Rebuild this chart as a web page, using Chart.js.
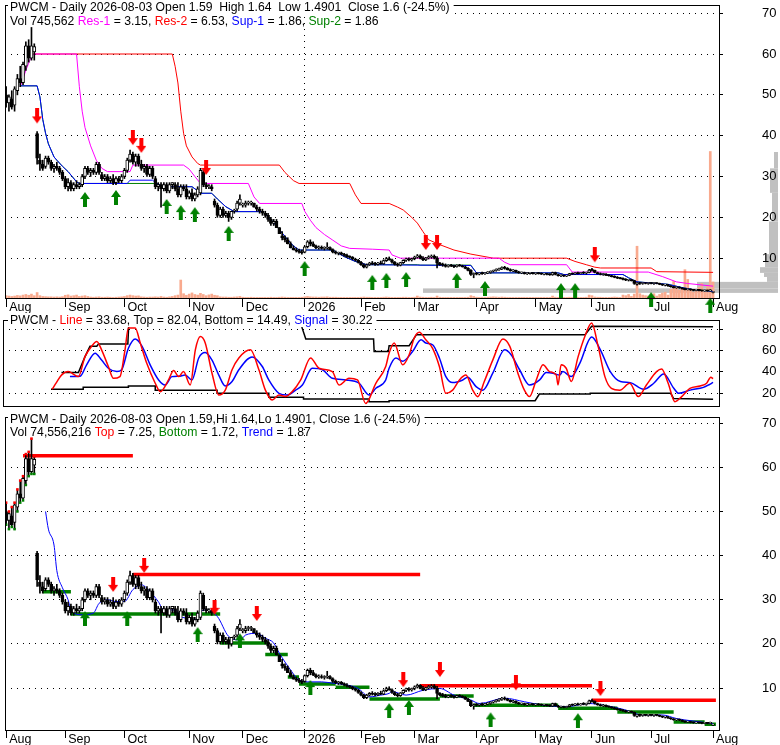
<!DOCTYPE html>
<html>
<head>
<meta charset="utf-8">
<script src="https://cdn.jsdelivr.net/npm/chart.js@4.4.1/dist/chart.umd.min.js"></script>
<style>
html, body { margin: 0; padding: 0; background: #fff; }
#wrap { position: relative; width: 780px; height: 745px; overflow: hidden; }
.pane { position: absolute; left: 0; width: 780px; }
</style>
</head>
<body>
<div id="wrap">
  <div class="pane" style="top:0;height:318px"><canvas id="cTop" width="780" height="318"></canvas></div>
  <div class="pane" style="top:300px;height:108px"><canvas id="cMid" width="780" height="108"></canvas></div>
  <div class="pane" style="top:405px;height:340px"><canvas id="cBot" width="780" height="340"></canvas></div>
</div>
<script>
// trading day index 0 = first session of Aug 2025, 251 = 2026-08-03
const monthIdx = [0, 21, 42, 65, 84, 106, 126, 145, 167, 188, 208, 229, 251];
const monthNames = ['Aug', 'Sep', 'Oct', 'Nov', 'Dec', '2026', 'Feb', 'Mar', 'Apr', 'May', 'Jun', 'Jul', 'Aug'];

const opens = [50,48,49,47.5,51,54,53,57,62,59,60.5,
  40.5,34,33,32.5,34.5,33.5,32,32.5,32,31,
  29.5,27.5,28.5,27,28,27.5,28,30,32,31,31.5,31,33,30.5,29.5,30,29,29.5,28.5,29.5,29,
  30,31.5,34,35.5,33.5,35,33,32,32.5,30.5,32,29.5,27.5,28,27,28,26.5,28,28,27,25.5,27.5,27,
  25,26,24.5,25.5,26,31,28,27.5,27.5,24,23,20.5,22,20.5,21,20,21.5,22,23.5,
  23,23,23.5,23.5,23.5,22.5,22,21.5,21,20.5,19.5,18.5,19,17.5,15.5,15,14.5,13.5,12.5,12,11.8,11.5,
  11.5,12.8,14,13.5,13,12.5,12.6,12.4,12.5,12.6,12.1,11.5,11.2,11.3,11,10.7,10.4,10.2,9.8,9.5,
  9,8.4,7.8,8.4,8.8,8.6,8.5,8.8,8.6,9.4,9.9,9.6,9,8.5,8.3,8.9,9.5,9.8,9.6,
  9.9,10.3,10.6,10,9.6,10.1,10.3,10.5,10,8.8,8.4,8.3,8,8.2,8.1,7.9,8.3,8.1,7.9,7.5,7,6,
  6.2,6.1,6.3,6.2,6.4,6.5,6.8,7,7.2,7.4,7.7,7.5,7.2,6.9,7,6.6,6.4,6.5,6.2,6.3,6.4,
  6.2,6.3,6.2,6.1,6.2,6,5.9,6.5,6,5.7,5.8,5.6,5.8,6.2,6.1,6.4,6.2,6.4,6.3,6.5,
  7.1,7,6.5,6.2,6,6.1,5.8,5.7,5.5,5.3,5.1,5,4.8,4.6,4.7,4.5,3.6,3.9,3.8,3.9,3.8,
  3.9,3.8,3.9,3.8,3.6,3.4,3.5,3.2,3,2.8,2.9,2.7,2.5,2.3,2.4,2.2,2.1,2.2,2.1,2,2.1,2,1.59];
const highs = [52,50,51,52,55,57,58,63,63.5,66.5,62.5,
  41,35.5,34,35,35,34,33,33.5,32.5,31.5,
  30,29.5,29,28.5,29,28.5,30.5,32.5,32.5,32,32,33.5,33.5,31,30.5,30.5,30,30.5,30,30,30.5,
  32,34.5,36.5,36,35.5,35.5,34,33,33,32.5,32.5,30,28.5,28.5,28.5,28.5,28.5,28.5,28.5,28.5,28,28,28,
  26.5,27,26,27.5,32,31.5,28.5,28,28,24.5,23.5,22.5,22.5,21.5,21.5,21.5,22,24,25.5,
  23.5,24,24,24,23.5,23,22.5,22,21.5,21,20,19.5,19.5,17.5,16.5,15.5,15,14,13,12.5,12.2,12,
  13,14.3,14.5,14,13.2,13,13,12.8,13.8,12.8,12.3,11.8,11.5,11.5,11.2,11,10.6,10.4,10,9.7,
  9.2,8.6,8.6,9,9.2,9,9,9.3,9.6,10.2,10.3,9.8,9.2,8.8,9,9.6,10,10.1,10,
  10.5,10.9,10.8,10.4,10.2,10.6,10.8,10.8,10.4,9,8.8,8.6,8.4,8.5,8.3,8.4,8.5,8.3,8.1,7.7,7.2,6.4,
  6.5,6.4,6.6,6.5,6.7,6.9,7.1,7.4,7.6,7.9,8,7.7,7.4,7.2,7.1,6.8,6.6,6.6,6.5,6.5,6.5,
  6.4,6.5,6.4,6.3,6.3,6.2,6.6,6.6,6.1,5.9,5.9,5.9,6.3,6.4,6.5,6.6,6.5,6.7,6.6,7.3,
  7.5,7.1,6.6,6.4,6.3,6.2,6,5.8,5.7,5.5,5.3,5.2,5,4.8,4.8,4.6,4,4.1,4,4,4,
  4,4,4,3.9,3.7,3.6,3.6,3.3,3.1,3,3,2.8,2.6,2.5,2.5,2.3,2.3,2.3,2.2,2.2,2.2,2.3,1.64];
const lows = [47,46,46.5,46,50,52,52.5,56,58,58.5,58.5,
  33,31.5,31.5,32,33,31.5,31,31.5,30.5,29,
  27,26.5,26.5,26.5,27,27,27.5,29.5,30.5,30,30.5,30.5,30.5,29,29,28.5,28.5,28,28,28.5,28.5,
  29.5,31,33.5,33,32.5,32.5,31.5,31,30,30,29.5,27,26.5,22.5,26.5,26,26,27,26.5,25,25,26.5,24.5,
  24.5,24,24,25,25.5,27.5,27,27,26.5,22.5,20,20,20,20,19,19.5,21,21.5,23,
  22.5,22.5,23,23,22.5,21.5,21,20.5,20,19,18,18,17.5,16,14.5,14,13.5,12.5,12,11.5,11.2,11,
  11.3,12.5,13,12.8,12.3,12.2,12.2,12,12.2,12,11.3,11,10.8,10.8,10.5,10.2,10,9.6,9.3,8.8,
  8.2,7.6,7.6,8.2,8.4,8.2,8.3,8.5,8.5,9.2,9.5,8.8,8.3,8,8.1,8.7,9.2,9.3,9.3,
  9.6,10,9.8,9.4,9.4,9.8,10,9.8,7.6,8.2,8,7.8,7.8,7.9,7.7,7.8,8,7.8,7.4,6.9,5.8,5.2,
  5.9,5.9,6,6,6.2,6.3,6.6,6.8,7,7.2,7.3,7.1,6.8,6.7,6.5,6.3,6.2,6.1,6,6.1,6.1,
  6,6.1,6,5.9,5.9,5.8,5.8,5.9,5.6,5.5,5.5,5.5,5.7,6,6,6.1,6.1,6.2,6.1,6.4,
  6.8,6.4,6.1,5.9,5.8,5.7,5.6,5.4,5.2,5,4.9,4.7,4.5,4.4,4.4,3.6,3.4,3.6,3.6,3.7,3.6,
  3.7,3.6,3.7,3.5,3.3,3.2,3.1,2.9,2.7,2.6,2.6,2.4,2.2,2.2,2.1,2,2,2,1.9,1.9,1.9,1.9,1.4901];
const closes = [48,49.5,47,51.5,54,53,57.5,62,59,62,61.8,
  34.5,33,32,34.5,33.5,32,32.5,32,31,29.5,
  27.5,28.5,27,28,27.5,28,30,32,31,31.5,31,33,31,29.5,30,29,29.5,28.5,29.5,29,30,
  31.5,34,35.5,33.5,35,33,32,32.5,30.5,32,30,27.5,28,27,28,26.5,28,28.5,27,25.5,27.5,27,25,
  26,24.5,25.5,27,31.5,28,27.5,27.5,27,23,20.5,22,20.5,21,20,21.5,21.5,23.5,24.5,
  23,23.5,23.5,23.5,22.5,22,21.5,21,20.5,19.5,18.5,19,17.5,16,15,14.5,13.5,12.5,12,11.8,11.5,11.3,
  12.8,14,13.5,13,12.5,12.6,12.4,12.5,12.6,12.1,11.5,11.2,11.3,11,10.7,10.4,10.2,9.8,9.5,9,
  8.4,7.8,8.4,8.8,8.6,8.5,8.8,8.6,9.4,9.9,9.6,9,8.5,8.3,8.9,9.5,9.8,9.6,9.9,
  10.3,10.6,10,9.6,10.1,10.3,10.5,10,8.8,8.4,8.3,8,8.2,8.1,7.9,8.3,8.1,7.9,7.5,7,6,6.2,
  6.1,6.3,6.2,6.4,6.5,6.8,7,7.2,7.4,7.7,7.5,7.2,6.9,7,6.6,6.4,6.5,6.2,6.3,6.4,6.2,
  6.3,6.2,6.1,6.2,6,5.9,6.5,6,5.7,5.8,5.6,5.8,6.2,6.1,6.4,6.2,6.4,6.3,6.5,7.1,
  7,6.5,6.2,6,6.1,5.8,5.7,5.5,5.3,5.1,5,4.8,4.6,4.7,4.5,3.8,3.9,3.8,3.9,3.8,3.9,
  3.8,3.9,3.8,3.6,3.4,3.5,3.2,3,2.8,2.9,2.7,2.5,2.3,2.4,2.2,2.1,2.2,2.1,2,2.1,2,2.12,1.6];
// volume, millions of shares
const volumes = [1.2,1,0.8,1,1.3,1.1,1.5,1.8,1.4,2,1.2,
  2.8,1.2,0.8,0.7,0.6,0.6,0.5,0.6,0.5,0.7,
  1.4,1.6,1,1.2,1.5,0.8,1,1.2,0.8,0.5,0.4,0.5,0.6,0.4,0.4,0.5,0.4,0.3,0.4,0.5,0.6,
  0.8,1.2,1.5,1.2,1,1.1,0.6,0.5,0.4,0.5,0.5,0.6,0.5,0.8,0.5,0.4,0.6,0.8,1.2,1.5,9.2,2.2,1.4,
  2,2.6,1.8,1.5,2.4,1.8,1.2,1.6,2,1.4,1.2,0.6,0.5,0.5,0.4,0.4,0.5,0.6,0.8,
  0.4,0.3,0.3,0.4,0.3,0.3,0.3,0.3,0.3,0.3,0.4,0.3,0.3,0.4,0.5,0.4,0.3,0.3,0.3,0.3,0.3,0.4,
  0.6,0.8,0.6,0.5,0.5,0.4,0.5,0.5,0.6,0.4,0.4,0.4,0.3,0.3,0.3,0.3,0.3,0.3,0.3,0.3,
  0.4,0.5,0.4,0.4,0.3,0.3,0.3,0.3,0.4,0.5,0.4,0.3,0.3,0.3,0.3,0.4,0.4,0.3,0.3,
  0.4,1,0.5,0.4,0.3,0.3,0.4,0.3,1,0.4,0.3,0.3,0.3,0.3,0.3,0.3,0.3,0.3,0.3,0.4,1.2,0.8,
  0.4,0.3,0.3,0.3,0.4,0.5,0.6,0.5,0.4,0.5,0.4,0.3,0.3,0.3,0.3,0.3,0.3,0.3,0.3,0.3,0.3,
  0.3,0.3,0.3,0.3,0.3,0.3,1,0.4,0.3,0.3,0.3,0.3,0.4,0.3,0.4,0.3,0.3,0.3,0.4,1.5,
  1.2,0.5,0.4,0.4,0.3,0.3,0.3,0.4,0.5,0.4,0.3,1.5,1.2,1.8,0.8,2,26.5,2.2,1.5,1.2,1,
  1.5,2.2,1,1.8,2.5,3,1.5,4.5,8.5,6,4,5,14.5,9.5,4.5,3,4,5.5,7.5,3,6.5,75,8.2];

// top panel: support / resistance lines  [day, price]
const res2Pts = [[9,60],[59,60],[60,57],[61,52.9],[62,46],[63,40.6],[64,37.5],[66,34.8],[68,33.2],[69,32.8],[97,32.8],[99,31],[102,29],[104,28.3],[122,28.3],[124,25.5],[126,23.4],[136,23.4],[139,22.5],[141,21.8],[144,20],[146,18.6],[148,16.5],[150,14.5],[154,13.3],[159,12],[165,11],[173,10],[199,10],[202,9.2],[206,8.4],[209,7.8],[211,7.6],[229,7.6],[231,6.7],[251,6.53]];
const res1Pts = [[5,52],[7,56],[9,59.5],[10,60],[25,60],[26,52],[27,46],[28,42],[30,37.5],[32,34],[34,32],[36,31.2],[44,31.2],[45,32.8],[63,32.8],[65,31.8],[67,30],[69,28.3],[86,28.3],[88,25],[90,23.4],[105,23.4],[106,21.5],[108,19.3],[110,17.5],[113,15.8],[116,14.4],[119,13],[122,12.4],[130,12.2],[136,12],[137,10.8],[140,10],[175,10],[177,9],[179,8.4],[199,8.4],[201,6.6],[228,6.6],[233,5.5],[238,4.2],[242,3.8],[251,3.15]];
const sup1Pts = [[5,52.2],[11,52.2],[12,49.5],[13,44],[14,40.6],[15,38],[17,34.8],[18,34],[20,32.5],[22,31.2],[25,28.7],[26,28.3],[43,28.3],[44,29.1],[52,29.1],[53,28.5],[56,27.5],[66,27.5],[68,26.5],[69,25.9],[73,25.9],[75,24.5],[78,22.6],[81,21.4],[91,21.4],[94,19.5],[97,17],[100,14.5],[102,13],[104,12],[116,12],[118,11.2],[120,10.4],[124,9.2],[128,8.4],[165,8.2],[167,6.4],[196,6.4],[198,6],[219,6],[221,5.2],[224,4.2],[235,3.6],[240,2.8],[244,2.3],[251,1.86]];
const sup2Pts = [[5,52.2],[11,52.2],[12,49.5],[13,44],[14,40.6],[15,38],[17,34.8],[18,34],[20,32.5],[22,31.2],[25,28.7],[26,28.3],[53,28.3],[56,27.5],[66,27.5],[68,26.5],[69,25.9],[73,25.9],[75,24.5],[78,22.6],[81,21.4],[91,21.4],[94,19.5],[97,17],[100,14.5],[102,13],[104,12],[116,12],[118,11.2],[120,10.4],[124,9.2],[128,8.4],[146,8.4],[147,8.3],[165,8.3],[167,6.4],[196,6.4],[198,6],[219,6],[221,5.2],[224,4.2],[235,3.6],[240,2.8],[244,2.3],[251,1.86]];
const topDownArrows = [[11,43],[45,37.7],[48,35.8],[71,30.4],[149,12],[153,12],[209,9]];
const topUpArrows = [[28,26.2],[39,26.7],[57,24.5],[62,23],[67,22.5],[79,17.9],[106,9.3],[130,5.9],[135,6.4],[142,6.6],[160,6.4],[170,4.4],[197,3.9],[202,3.9],[229,1.7],[250,0.3]];
// volume by price (right edge histogram)
const profLo = [1.5, 2.6, 4.2, 5.4, 6.4, 7.8, 11, 19, 26, 32];
const profHi = [2.6, 4.2, 5.4, 6.4, 7.8, 11, 19, 26, 32, 36];
const profVol = [355, 81, 11, 14, 18, 13, 9, 6, 8, 4];

// middle panel oscillator
const linePts = [[17,23.8],[18.5,30],[20.3,37],[22.7,40.3],[26.3,35.6],[28.6,54],[31,64],[32.8,68.4],[34.5,60.6],[36.9,45],[38.7,34],[41,35.6],[42.8,60.6],[44,81],[46.4,81],[48.2,67],[50.5,48],[53.5,29.4],[55.3,21.6],[58.2,32.5],[60,41.3],[61.8,35.6],[63.5,40.3],[65.9,27.8],[67.7,60.6],[69.5,73],[71.2,67],[73.6,38.8],[76,18.4],[78.3,23],[80.7,42],[83.1,53],[87.2,60.6],[90.2,42],[92.5,23],[94.9,13.8],[97.3,18.4],[99.6,17],[102,21.6],[105,32.5],[108.5,53],[111.5,43.4],[116.2,40.3],[118.6,27.8],[122.1,34],[125.1,32.5],[128,10.6],[131.6,29.4],[135.1,45],[136.3,57.5],[138.1,67],[141.1,46.6],[143.4,56],[145.2,71.6],[147,77],[149.3,70],[151.7,62],[154.1,45],[156.4,20],[158.8,23],[161.2,32.5],[163.5,37],[165.9,23],[167.7,16.9],[170,31],[173,51],[176.6,70.6],[179,64],[181.9,38.8],[184.2,23],[186,17],[188.4,32.5],[190.8,46.6],[193.1,40.3],[195.5,37],[196.1,27.8],[197.2,46.6],[199,43.4],[200.8,31],[203.2,54],[205.6,73],[208,85.6],[210.3,64],[212.7,35.6],[215,24.7],[218,23],[221.5,29.4],[224.5,17],[227.4,27.8],[231,40.3],[232.8,42.8],[235.1,29.4],[237.5,12.2],[239.9,17],[242.8,24.7],[246.4,26.9],[248.7,29.4],[250.2,35],[251,33.68]];
const signalPts = [[23.3,35.6],[26.9,36],[29.2,46.6],[32.2,57.5],[34.5,51],[36.9,43.4],[39.9,40.3],[41.6,42],[44,62],[46.4,70.6],[48.8,64],[51.7,46.6],[54.7,32.5],[57,27.8],[59.4,35.6],[61.8,36],[64.1,37],[66.5,32.5],[68.9,53],[71.2,58],[73.6,51],[76,37],[78.3,26.9],[80.7,31],[83.1,42],[87.8,54],[91.4,45],[93.7,32.5],[97.3,20],[100.2,18.4],[103.2,23],[105.6,27.8],[109.1,43.4],[112.7,42],[116.2,34],[121,32.5],[125.7,29.4],[129.2,18.4],[131.6,24.7],[135.1,32.5],[136.3,43.4],[138.7,53],[141.1,50],[144.6,59],[147.6,70],[149.3,67],[151.7,65.3],[154.1,53],[156.4,35.6],[158.8,30],[162.4,32.5],[164.1,35],[167.1,26.3],[169.5,23],[173,38.8],[177.2,60.6],[179.5,56],[182.5,42],[186,27.8],[189.6,32.5],[191.9,39.4],[194.3,38.8],[196.7,37],[197.8,40.3],[200.8,35.6],[203.8,48],[208,72.5],[211.1,60.6],[214.6,40.3],[218.2,31],[221.7,30],[226.4,23.8],[230,29.4],[233.5,38.1],[237.1,24.7],[238.8,20],[242.9,23],[247.6,25.6],[249.4,27.8],[251,30.22]];
const bandTopPts = [[20.3,39.4],[26.3,39.4],[28.6,54],[30.4,64],[32.8,64],[33.4,66],[43.8,66],[44.3,95],[105,95],[105.5,81],[106.8,70.6],[130.8,70.6],[131,59],[136,59],[136.3,64.4],[143.4,64.4],[146,74.7],[205.7,74.7],[208,82.5],[251,82.04]];
const bandBotPts = [[16.6,23.8],[28,23.8],[28,25.6],[44,25.6],[44,26.9],[53.5,26.9],[53.5,23],[75.4,23],[75.4,20],[93.7,20],[93.7,16.3],[106,16.3],[106,14.7],[129.2,14.7],[129.2,12.2],[136.3,12.2],[136.3,13.1],[188,13.1],[189.5,19.4],[207.5,19.4],[207.5,20],[236,20],[237,15.3],[251,14.49]];

// bottom panel: trend line, breakout levels [from, to, price], arrows
const trendPts = [[14,50],[15,46],[17,42.4],[18,36.6],[20,32.7],[22,30],[23,27.7],[27,26.6],[31,27],[33,29.2],[36,30],[39,29.6],[42,29.6],[45,32.3],[48,33.4],[51,31.9],[54,29.6],[56,27.7],[60,27.7],[62,26.2],[65,25.8],[68,25.5],[69,27.3],[71,27.7],[75,26.2],[79,21.7],[83,20.9],[85,22],[89,22.4],[92,21.3],[95,20.2],[97,17.9],[101,14.1],[104,11.8],[108,11.4],[112,11.4],[116,11.1],[121,10.7],[125,9.9],[129,8],[133,8.4],[136,8.8],[137,9.2],[142,8.4],[148,9.5],[154,9.9],[159,8.4],[165,7.3],[168,6.5],[177,7.7],[184,6.9],[191,6.1],[199,5.8],[207,6.5],[212,6.1],[219,5.2],[226,3.9],[233,3.9],[238,3.1],[250,2],[251,1.87]];
const topLevels = [[6,45,62.6],[45,147,35.7],[147,208,10.5],[208,252,7.25]];
const bottomLevels = [[13,23,31.8],[23,76,26.8],[76,93,20.2],[92,100,17.6],[100,104,12.5],[104,117,10.9],[117,129,10.2],[129,154,7.5],[154,166,8.2],[166,196,6.1],[196,217,5.4],[217,237,4.6],[237,248,2.3],[248,252,1.8]];
const botDownArrows = [[38,31.8],[49,36.1],[74,26.6],[89,25.2],[141,10.2],[154,12.5],[181,9.5],[211,8.2]];
const botUpArrows = [[28,27.4],[43,27.4],[68,23.8],[83,22.4],[108,11.8],[136,6.6],[143,7.3],[172,4.5],[203,4.3]];

if ([opens, highs, lows, closes, volumes].some(a => a.length !== 252)) {
  throw new Error('length mismatch ' + [opens, highs, lows, closes, volumes].map(a => a.length).join(','));
}

const FONT = '"Liberation Sans", Arial, sans-serif';
const HEAD_FONT = '12.2px ' + FONT;
Chart.defaults.font.family = FONT;
Chart.defaults.font.size = 13;
Chart.defaults.color = '#000';

const RED = '#ff0000', GREEN = '#008000', BLUE = '#0000ff', MAGENTA = '#ff00ff';

function pts(list) { return list.map(p => ({ x: p[0], y: p[1] })); }
function levels(list) {
  const out = [];
  list.forEach(s => { out.push({ x: s[0], y: s[2] }, { x: s[1], y: s[2] }, { x: s[1], y: null }); });
  return out;
}
function arrow(color, down) {
  const c = document.createElement('canvas');
  c.width = 10; c.height = 30;
  const g = c.getContext('2d');
  g.fillStyle = color;
  g.beginPath();
  if (down) {
    g.rect(3, 0, 4, 8);
    g.moveTo(0, 8); g.lineTo(10, 8); g.lineTo(5, 15); g.closePath();
  } else {
    g.moveTo(5, 15); g.lineTo(10, 22); g.lineTo(0, 22); g.closePath();
    g.rect(3, 22, 4, 8);
  }
  g.fill();
  return c;
}
const downImg = arrow(RED, true);
const upImg = arrow(GREEN, false);

const days = closes.map((_, i) => i);
const wickData = days.map(i => ({ x: i, y: [lows[i], highs[i]] }));
const bodyData = days.map(i => ({ x: i, y: [Math.min(opens[i], closes[i]), Math.max(opens[i], closes[i])] }));
const bodyFill = days.map(i => closes[i] >= opens[i] ? '#fff' : '#000');

function candleSets() {
  return [
    { type: 'bar', data: wickData, backgroundColor: '#000', borderWidth: 0, barThickness: 1, grouped: false, order: 2, yAxisID: 'y' },
    { type: 'bar', data: bodyData, backgroundColor: bodyFill, borderColor: '#000', borderWidth: 1, borderSkipped: false,
      barThickness: 3, minBarLength: 1, grouped: false, order: 1, yAxisID: 'y' }
  ];
}
function lineSet(list, color, width, order, extra) {
  return Object.assign({ type: 'line', data: pts(list), borderColor: color, borderWidth: width, pointRadius: 0,
    tension: 0, fill: false, order: order, yAxisID: 'y' }, extra || {});
}
function arrowSet(list, img) {
  return { type: 'scatter', data: pts(list), pointStyle: img, pointRadius: 4, clip: false, order: 0, yAxisID: 'y' };
}

function xScale(height, tickLen, pad, showYear) {
  return {
    type: 'linear', min: -0.4, max: 253.1, offset: false,
    afterBuildTicks: s => { s.ticks = monthIdx.map(v => ({ value: v })); },
    afterFit: s => { s.height = height; s.paddingLeft = 0; s.paddingRight = 0; },
    grid: {
      offset: false,
      color: c => (showYear && c.tick && c.tick.value === 106) ? '#000' : 'rgba(0,0,0,0)',
      tickColor: '#000', tickLength: tickLen, lineWidth: 1
    },
    border: { display: false, dash: [1, 5] },
    ticks: { autoSkip: false, maxRotation: 0, minRotation: 0, align: 'start', labelOffset: 3, padding: pad,
      font: { size: 12.5 }, color: '#000', callback: v => monthNames[monthIdx.indexOf(v)] }
  };
}
function yScale(min, max, vals) {
  return {
    position: 'right', min: min, max: max,
    afterBuildTicks: s => { s.ticks = vals.map(v => ({ value: v })); },
    afterFit: s => { s.width = 61; s.paddingTop = 0; s.paddingBottom = 0; },
    grid: { color: '#000', tickColor: '#000', tickLength: 4, lineWidth: 1 },
    border: { display: false, dash: [1, 5] },
    ticks: { padding: 39, color: '#000', callback: v => String(v) }
  };
}

// frame plus header lines written over the top edge
function heads(lines) {
  return {
    id: 'heads',
    afterDraw(chart) {
      const ctx = chart.ctx, a = chart.chartArea;
      ctx.save();
      ctx.strokeStyle = '#000';
      ctx.lineWidth = 1;
      ctx.strokeRect(a.left + 0.5, a.top + 0.5, a.right - a.left, a.bottom - a.top);
      ctx.font = HEAD_FONT;
      ctx.textBaseline = 'alphabetic';
      lines.forEach(line => {
        let x = 10;
        const w = line.parts.reduce((s, p) => s + ctx.measureText(p[0]).width, 0);
        if (line.bg) {
          ctx.fillStyle = '#fff';
          ctx.fillRect(x - 2, line.y - 11, w + 6, 14);
        }
        line.parts.forEach(p => {
          ctx.fillStyle = p[1];
          ctx.fillText(p[0], x, line.y);
          x += ctx.measureText(p[0]).width;
        });
      });
      ctx.restore();
    }
  };
}

const profilePlugin = {
  id: 'profile',
  beforeDraw(chart) {
    const ctx = chart.ctx, y = chart.scales.y;
    const right = chart.width - 2;
    ctx.save();
    ctx.fillStyle = '#c0c0c0';
    profVol.forEach((v, i) => {
      const y1 = y.getPixelForValue(profHi[i]), y2 = y.getPixelForValue(profLo[i]);
      ctx.fillRect(right - v, y1, v, y2 - y1);
    });
    ctx.restore();
  }
};

const common = { responsive: false, maintainAspectRatio: false, animation: false, events: [],
  plugins: { legend: { display: false }, tooltip: { enabled: false } } };

// ---- top panel
new Chart(document.getElementById('cTop'), {
  type: 'line',
  data: {
    datasets: [
      { type: 'bar', data: days.map(i => ({ x: i, y: volumes[i] })), backgroundColor: '#f9aa8e', borderWidth: 0,
        barThickness: 2, grouped: false, order: 9, yAxisID: 'vol' },
      lineSet(res2Pts, RED, 1, 6),
      lineSet(res1Pts, MAGENTA, 1, 5),
      lineSet(sup2Pts, GREEN, 1, 4),
      lineSet(sup1Pts, BLUE, 1, 3),
      ...candleSets(),
      arrowSet(topDownArrows, downImg),
      arrowSet(topUpArrows, upImg)
    ]
  },
  options: Object.assign({}, common, {
    layout: { padding: { left: 3, top: 5, right: 0, bottom: 0 } },
    scales: {
      x: xScale(20, 9, -7, true),
      y: yScale(0.25, 72, [10, 20, 30, 40, 50, 60, 70]),
      vol: { display: false, min: 0, max: 150 }
    }
  }),
  plugins: [profilePlugin, heads([
    { y: 11, bg: true, parts: [['PWCM - Daily 2026-08-03 Open 1.59  High 1.64  Low 1.4901  Close 1.6 (-24.5%)', '#000']] },
    { y: 25, bg: false, parts: [['Vol 745,562 ', '#000'], ['Res-1', MAGENTA], [' = 3.15, ', '#000'], ['Res-2', RED],
      [' = 6.53, ', '#000'], ['Sup-1', BLUE], [' = 1.86, ', '#000'], ['Sup-2', GREEN], [' = 1.86', '#000']] }
  ])]
});

// ---- middle panel
new Chart(document.getElementById('cMid'), {
  type: 'line',
  data: {
    datasets: [
      lineSet(bandTopPts, '#000', 1.5, 4),
      lineSet(bandBotPts, '#000', 1.5, 3),
      lineSet(signalPts, BLUE, 1.5, 2, { cubicInterpolationMode: 'monotone' }),
      lineSet(linePts, RED, 1.5, 1, { cubicInterpolationMode: 'monotone' })
    ]
  },
  options: Object.assign({}, common, {
    layout: { padding: { left: 3, top: 20, right: 0, bottom: 2 } },
    scales: {
      x: { type: 'linear', min: -0.4, max: 253.1, offset: false, display: false },
      y: yScale(8.2, 88.4, [20, 40, 60, 80])
    }
  }),
  plugins: [heads([
    { y: 24, bg: true, parts: [['PWCM - ', '#000'], ['Line', RED], [' = 33.68, Top = 82.04, Bottom = 14.49, ', '#000'],
      ['Signal', BLUE], [' = 30.22', '#000']] }
  ])]
});

// ---- bottom panel
const early = days.slice(0, 11);
new Chart(document.getElementById('cBot'), {
  type: 'line',
  data: {
    datasets: [
      { type: 'line', data: levels(topLevels), borderColor: RED, borderWidth: 3.5, pointRadius: 0, tension: 0, order: 5, yAxisID: 'y' },
      { type: 'line', data: levels(bottomLevels), borderColor: GREEN, borderWidth: 3.5, pointRadius: 0, tension: 0, order: 4, yAxisID: 'y' },
      lineSet(trendPts, BLUE, 1, 3, { cubicInterpolationMode: 'monotone' }),
      ...candleSets(),
      { type: 'scatter', data: early.map(i => ({ x: i, y: highs[i] })), pointStyle: 'rect', pointRadius: 1.8,
        backgroundColor: RED, borderWidth: 0, order: 0, yAxisID: 'y' },
      { type: 'scatter', data: early.map(i => ({ x: i, y: lows[i] })), pointStyle: 'rect', pointRadius: 1.8,
        backgroundColor: GREEN, borderWidth: 0, order: 0, yAxisID: 'y' },
      arrowSet(botDownArrows, downImg),
      arrowSet(botUpArrows, upImg)
    ]
  },
  options: Object.assign({}, common, {
    layout: { padding: { left: 3, top: 12, right: 0, bottom: 0 } },
    scales: {
      x: xScale(15, 8, -6, true),
      y: yScale(0.5, 71.4, [10, 20, 30, 40, 50, 60, 70])
    }
  }),
  plugins: [heads([
    { y: 17.5, bg: true, parts: [['PWCM - Daily 2026-08-03 Open 1.59,Hi 1.64,Lo 1.4901, Close 1.6 (-24.5%)', '#000']] },
    { y: 31, bg: false, parts: [['Vol 74,556,216 ', '#000'], ['Top', RED], [' = 7.25, ', '#000'], ['Bottom', GREEN],
      [' = 1.72, ', '#000'], ['Trend', BLUE], [' = 1.87', '#000']] }
  ])]
});
</script>
</body>
</html>
